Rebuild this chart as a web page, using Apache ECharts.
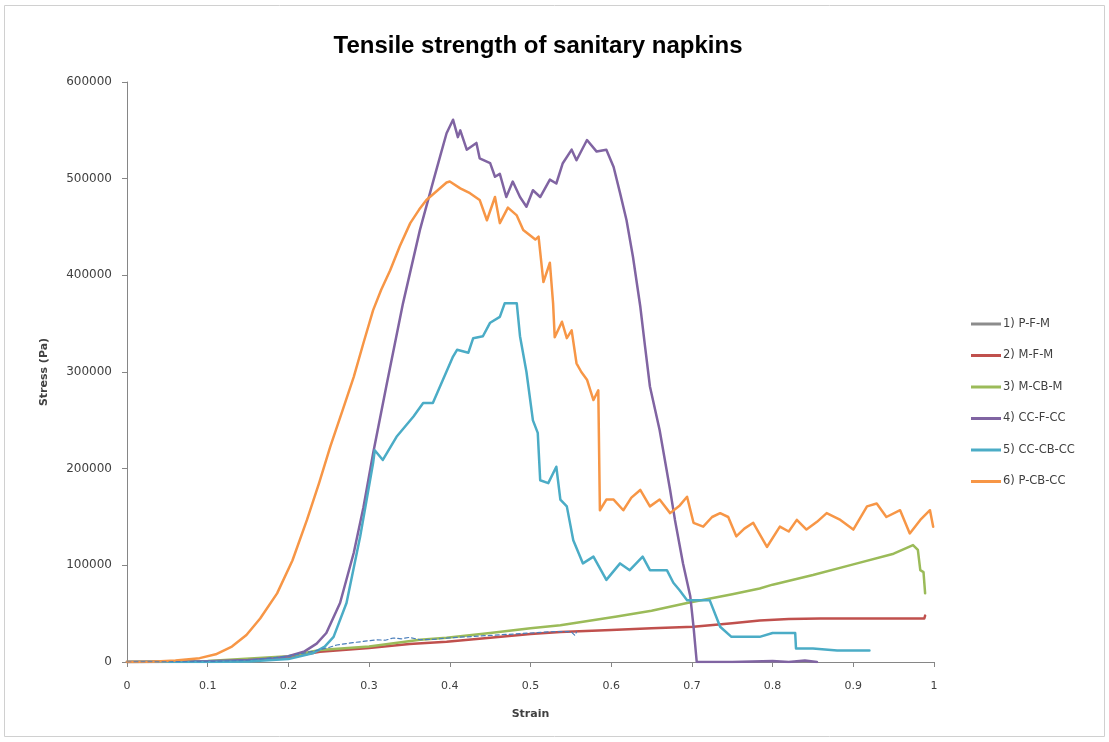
<!DOCTYPE html>
<html>
<head>
<meta charset="utf-8">
<script src="https://cdn.jsdelivr.net/npm/echarts@6/dist/echarts.min.js"></script>
<style>
html,body{margin:0;padding:0;background:#fff;}
#chart{width:1109px;height:742px;}
</style>
</head>
<body>
<div id="chart"></div>
<script>
// ---- Data: [strain, stress (Pa)] ----
const seriesNames = ["1) P-F-M", "2) M-F-M", "3) M-CB-M", "4) CC-F-CC", "5) CC-CB-CC", "6) P-CB-CC"];
const seriesColors = ["#4A7EBB", "#C0504D", "#9BBB59", "#8064A2", "#4BACC6", "#F79646"];

const xTicks = [0, 0.1, 0.2, 0.3, 0.4, 0.5, 0.6, 0.7, 0.8, 0.9, 1];
const yTicks = [0, 100000, 200000, 300000, 400000, 500000, 600000];

const pfmData = [
  [0,0],[0.1,500],[0.15,1800],[0.2,6000],[0.23,11000],[0.25,15000],[0.26,17600],[0.28,20000],
  [0.295,21500],[0.309,23000],[0.32,22500],[0.33,24800],[0.34,24000],[0.35,25500],[0.363,23000],
  [0.38,23500],[0.4,25000],[0.45,27500],[0.5,30000],[0.53,31500],[0.55,31500],[0.555,27500],[0.557,31000]
];

const mfmData = [
  [0,0],[0.1,500],[0.15,1500],[0.2,5000],[0.239,10600],[0.3,14500],[0.35,18500],[0.396,21000],
  [0.45,25000],[0.5,29000],[0.537,31000],[0.6,33000],[0.65,35000],[0.702,36500],[0.75,40000],
  [0.784,43000],[0.82,44500],[0.859,45000],[0.9,45000],[0.95,45000],[0.988,45000],[0.989,48000]
];

const mcbmData = [
  [0,0],[0.1,1000],[0.2,6000],[0.239,12400],[0.3,16000],[0.363,23000],[0.396,25000],[0.45,30000],
  [0.5,35000],[0.537,38000],[0.607,47000],[0.65,53000],[0.694,61000],[0.75,70000],[0.784,76000],
  [0.8,80000],[0.85,90000],[0.9,101000],[0.95,112000],[0.974,121000],[0.98,116000],[0.983,95000],
  [0.987,93000],[0.989,71000]
];

const ccfccData = [
  [0,0],[0.05,200],[0.1,800],[0.15,2000],[0.18,3500],[0.2,6000],[0.22,11000],[0.235,19000],
  [0.247,30000],[0.264,61000],[0.281,113000],[0.293,160000],[0.305,216000],[0.322,288000],
  [0.342,371000],[0.363,447000],[0.380,499000],[0.388,523000],[0.396,547000],[0.404,561000],
  [0.410,543000],[0.413,550000],[0.421,530000],[0.433,537000],[0.437,521000],[0.450,516000],
  [0.456,502000],[0.462,505000],[0.470,481000],[0.478,497000],[0.487,481000],[0.495,471000],
  [0.503,488000],[0.512,481000],[0.524,499000],[0.532,495000],[0.540,516000],[0.551,530000],
  [0.557,519000],[0.570,540000],[0.582,528000],[0.594,530000],[0.603,512000],[0.611,485000],
  [0.619,457000],[0.627,419000],[0.636,368000],[0.642,326000],[0.648,285000],[0.660,240000],
  [0.673,178000],[0.679,147000],[0.689,102000],[0.698,68000],[0.702,36500],[0.706,0],
  [0.75,0],[0.8,1000],[0.82,0],[0.84,1500],[0.855,0]
];

const cccbccData = [
  [0,0],[0.1,0],[0.15,500],[0.2,3000],[0.23,9000],[0.245,16000],[0.256,26000],[0.272,61000],
  [0.289,130000],[0.305,206000],[0.307,219000],[0.317,209000],[0.334,233000],[0.355,254000],
  [0.367,268000],[0.379,268000],[0.404,316000],[0.409,323000],[0.423,320000],[0.429,335000],
  [0.441,337000],[0.450,351000],[0.462,357000],[0.468,371000],[0.483,371000],[0.487,337000],
  [0.495,300000],[0.503,250000],[0.509,237000],[0.512,188000],[0.522,185000],[0.532,202000],
  [0.537,168000],[0.545,161000],[0.553,126000],[0.565,102000],[0.578,109000],[0.594,85000],
  [0.611,102000],[0.623,95000],[0.639,109000],[0.648,95000],[0.669,95000],[0.677,82000],
  [0.685,74000],[0.694,64000],[0.710,64000],[0.722,64000],[0.735,36500],[0.749,26000],
  [0.784,26000],[0.80,30000],[0.828,30000],[0.829,14000],[0.85,14000],[0.88,12000],[0.92,12000]
];

const pcbccData = [
  [0,0],[0.03,300],[0.06,1500],[0.09,4000],[0.11,8000],[0.13,16000],[0.148,28000],[0.165,45000],
  [0.186,71000],[0.205,105000],[0.223,147000],[0.238,185000],[0.252,223000],[0.267,260000],
  [0.281,295000],[0.293,330000],[0.305,364000],[0.315,385000],[0.326,405000],[0.338,430000],
  [0.351,454000],[0.362,468000],[0.371,478000],[0.385,488000],[0.396,496000],[0.40,497000],
  [0.413,490000],[0.425,485000],[0.437,478000],[0.446,457000],[0.456,481000],[0.462,454000],
  [0.472,470000],[0.483,462000],[0.491,447000],[0.506,437000],[0.51,440000],[0.516,393000],
  [0.524,413000],[0.528,371000],[0.530,336000],[0.539,352000],[0.545,335000],[0.551,343000],
  [0.557,309000],[0.563,300000],[0.570,292000],[0.578,271000],[0.584,281000],[0.586,157000],
  [0.594,168000],[0.603,168000],[0.615,157000],[0.625,170000],[0.636,178000],[0.648,161000],
  [0.660,168000],[0.673,154000],[0.685,162000],[0.694,171000],[0.702,144000],[0.714,140000],
  [0.725,150000],[0.735,154000],[0.745,150000],[0.755,130000],[0.765,138000],[0.776,144000],
  [0.793,119000],[0.809,140000],[0.82,135000],[0.830,147000],[0.842,137000],[0.855,145000],
  [0.867,154000],[0.884,147000],[0.900,137000],[0.917,161000],[0.929,164000],[0.941,150000],
  [0.958,157000],[0.970,133000],[0.983,147000],[0.995,157000],[0.999,140000]
];

const allData = [pfmData, mfmData, mcbmData, ccfccData, cccbccData, pcbccData];

// ---- Chart ----
const chart = echarts.init(document.getElementById('chart'), null, {renderer: 'canvas'});
const txt = '#404040';
const axisColor = '#868686';
const legendColors = seriesColors.map((c, i) => i === 0 ? '#8c8c8c' : c);

const series = seriesNames.map((name, i) => ({
  name: name,
  type: 'line',
  data: allData[i],
  showSymbol: false,
  symbol: 'none',
  smooth: false,
  clip: true,
  z: i === 0 ? 10 : 2 + i,
  lineStyle: {
    color: seriesColors[i],
    width: i === 0 ? 1.2 : 2.5,
    type: i === 0 ? [4, 3] : 'solid',
    join: 'round', cap: 'round'
  },
  itemStyle: {color: legendColors[i]}
}));

chart.setOption({
  animation: false,
  backgroundColor: '#ffffff',
  title: {
    text: 'Tensile strength of sanitary napkins',
    left: 533, top: 29, textAlign: 'center',
    textStyle: {fontFamily: 'Liberation Sans, sans-serif', fontSize: 24, fontWeight: 'bold', color: '#000'}
  },
  graphic: [{
    type: 'rect', shape: {x: 4.5, y: 5.5, width: 1100, height: 731},
    style: {fill: 'none', stroke: '#d0d0d0', lineWidth: 1}, silent: true, z: -1
  }],
  legend: {
    orient: 'vertical',
    left: 966, top: 313,
    icon: 'rect',
    itemWidth: 30, itemHeight: 3, itemGap: 19.5,
    data: seriesNames.map((n, i) => ({name: n, itemStyle: {color: legendColors[i]}})),
    textStyle: {fontFamily: 'DejaVu Sans, sans-serif', fontSize: 11.5, color: txt, padding: [0,0,0,-3]}
  },
  grid: {left: 127, right: 175, top: 82, bottom: 80, containLabel: false},
  xAxis: {
    type: 'value', min: xTicks[0], max: xTicks[xTicks.length - 1], interval: 0.1,
    name: 'Strain', nameLocation: 'middle', nameGap: 47,
    nameTextStyle: {fontFamily: 'DejaVu Sans, sans-serif', fontSize: 11, fontWeight: 'bold', color: txt},
    axisLine: {show: true, lineStyle: {color: axisColor, width: 1}},
    axisTick: {show: true, length: 5, lineStyle: {color: axisColor}},
    splitLine: {show: false},
    axisLabel: {
      margin: 19, color: txt, fontFamily: 'DejaVu Sans, sans-serif', fontSize: 11,
      formatter: v => String(Math.round(v * 10) / 10)
    }
  },
  yAxis: {
    type: 'value', min: yTicks[0], max: yTicks[yTicks.length - 1], interval: 100000,
    name: 'Stress (Pa)', nameLocation: 'middle', nameGap: 77, nameRotate: 90,
    nameTextStyle: {fontFamily: 'DejaVu Sans, sans-serif', fontSize: 11, fontWeight: 'bold', color: txt},
    axisLine: {show: true, lineStyle: {color: axisColor, width: 1}},
    axisTick: {show: true, length: 5, lineStyle: {color: axisColor}},
    splitLine: {show: false},
    axisLabel: {
      margin: 15, color: txt, fontFamily: 'DejaVu Sans, sans-serif', fontSize: 12,
      formatter: v => String(v)
    }
  },
  series: series
});
</script>
</body>
</html>
